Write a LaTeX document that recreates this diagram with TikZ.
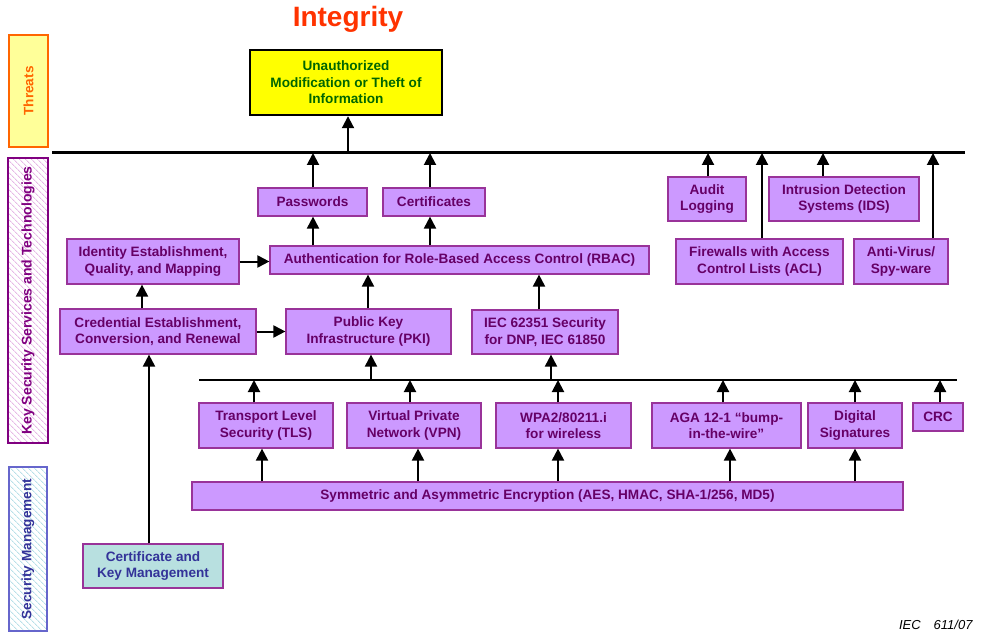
\documentclass[tikz,border=0pt]{standalone}
\usepackage{fontspec}
\setmainfont{Liberation Sans}
\usetikzlibrary{arrows.meta,patterns.meta}

\definecolor{boxfill}{HTML}{CC99FF}
\definecolor{boxedge}{HTML}{993399}
\definecolor{boxtext}{HTML}{660066}
\definecolor{threatfill}{HTML}{FFFF00}
\definecolor{threattext}{HTML}{006600}
\definecolor{titlered}{HTML}{FF3300}
\definecolor{orangeedge}{HTML}{FF6600}
\definecolor{paleyellow}{HTML}{FFFF99}
\definecolor{keyedge}{HTML}{800080}
\definecolor{keyhatch}{HTML}{E6B8E6}
\definecolor{mgmtedge}{HTML}{6666CC}
\definecolor{mgmthatch}{HTML}{B8E0E8}
\definecolor{mgmttext}{HTML}{333399}
\definecolor{tealfill}{HTML}{B8E0E0}

\tikzset{
  txt/.style={font=\fontsize{13.6}{16.5}\selectfont\bfseries, align=center, inner sep=0pt},
  box/.style={txt, draw=boxedge, line width=1.2pt, fill=boxfill, text=boxtext},
  arr/.style={line width=2pt, -{Triangle[length=12pt,width=12pt]}},
  bus/.style={line width=3pt},
  side/.style={line width=1.6pt, inner sep=0pt},
}

% place a box by its edges: left, top, right, bottom
\newcommand{\boxat}[6][box]{%
  \node[#1, minimum width={#5-#3}, minimum height={#6-#4}]
    (#2) at ({(#3+#5)/2},{(#4+#6)/2})}

\begin{document}
\begin{tikzpicture}[x=1pt,y=-1pt]
\useasboundingbox (0,0) rectangle (981,636);

% ---- side category bars ----
\node[side, draw=orangeedge, fill=paleyellow, minimum width=39, minimum height=112]
  (threatsbar) at (28.5,91) {};
\node[txt, rotate=90, text=orangeedge] at (threatsbar) {Threats};

\node[side, draw=keyedge, minimum width=40, minimum height=285,
  pattern={Lines[angle=-45,distance=4pt,line width=1pt]}, pattern color=keyhatch]
  (keybar) at (28,300.5) {};
\node[side, draw=keyedge, minimum width=40, minimum height=285] at (keybar) {};
\node[txt, font=\fontsize{14}{16}\selectfont\bfseries, rotate=90, text=keyedge] at (keybar) {Key Security Services and Technologies};

\node[side, draw=mgmtedge, minimum width=38, minimum height=164,
  pattern={Lines[angle=-45,distance=4pt,line width=1pt]}, pattern color=mgmthatch]
  (mgmtbar) at (28,549) {};
\node[side, draw=mgmtedge, minimum width=38, minimum height=164] at (mgmtbar) {};
\node[txt, rotate=90, text=mgmttext] at (mgmtbar) {Security Management};

% ---- title and threat ----
\node[font=\fontsize{28}{32}\selectfont\bfseries, text=titlered, anchor=base] (title) at (348,27) {Integrity};

\boxat[box, draw=black, line width=2.4pt, fill=threatfill, text=threattext]{threat}{250}{50}{442}{115}
  {Unauthorized\\Modification or Theft of\\Information};

% ---- upper services ----
\boxat{pw}{258}{188}{367}{216}{Passwords};
\boxat{cert}{383}{188}{485}{216}{Certificates};
\boxat{rbac}{270}{246}{649}{274}{Authentication for Role-Based Access Control (RBAC)};
\boxat{ident}{67}{239}{239}{284}{Identity Establishment,\\Quality, and Mapping};
\boxat{cred}{60}{309}{256}{354}{Credential Establishment,\\Conversion, and Renewal};
\boxat{pki}{286}{309}{451}{354}{Public Key\\Infrastructure (PKI)};
\boxat{iec}{472}{310}{618}{354}{IEC 62351 Security\\for DNP, IEC 61850};

\boxat{audit}{668}{177}{746}{221}{Audit\\Logging};
\boxat{ids}{769}{177}{919}{221}{Intrusion Detection\\Systems (IDS)};
\boxat{fw}{676}{239}{843}{284}{Firewalls with Access\\Control Lists (ACL)};
\boxat{av}{854}{239}{948}{284}{Anti-Virus/\\Spy-ware};

% ---- lower technologies ----
\boxat{tls}{199}{403}{333}{448}{Transport Level\\Security (TLS)};
\boxat{vpn}{347}{403}{481}{448}{Virtual Private\\Network (VPN)};
\boxat{wpa}{496}{403}{631}{448}{WPA2/80211.i\\for wireless};
\boxat{aga}{652}{403}{801}{448}{AGA 12-1 “bump-\\in-the-wire”};
\boxat{dsig}{808}{403}{902}{448}{Digital\\Signatures};
\boxat{crc}{913}{403}{963}{431}{CRC};
\boxat{sym}{192}{482}{903}{510}{Symmetric and Asymmetric Encryption (AES, HMAC, SHA-1/256, MD5)};

\boxat[box, fill=tealfill, text=mgmttext]{certm}{83}{544}{223}{588}{Certificate and\\Key Management};

\node[font=\fontsize{13}{15}\selectfont\itshape, anchor=base east] (fig) at (976,629) {IEC\hspace{13pt}611/07};

% ---- buses ----
\coordinate (busA-w) at (52,153);
\coordinate (busA-e) at (965,153);
\coordinate (busB-w) at (199,380);
\coordinate (busB-e) at (957,380);
\draw[bus] (busA-w) -- (busA-e);
\draw[line width=2.4pt] (busB-w) -- (busB-e);

% column helpers for off-centre connectors
\foreach \c in {142,149,254,262,313,348,368,371,410,418,430,539,551,558,708,723,730,762,823,855,933,940}
  {\coordinate (x\c) at (\c,0);}

% ---- connectors into the upper bus ----
\draw[arr] (busA-w -| x348) -- (threat.south -| x348);
\draw[arr] (pw.north -| x313) -- (busA-w -| x313);
\draw[arr] (cert.north -| x430) -- (busA-w -| x430);
\draw[arr] (audit.north -| x708) -- (busA-w -| x708);
\draw[arr] (fw.north -| x762) -- (busA-w -| x762);
\draw[arr] (ids.north -| x823) -- (busA-w -| x823);
\draw[arr] (av.north -| x933) -- (busA-w -| x933);

% ---- connectors among services ----
\draw[arr] (rbac.north -| x313) -- (pw.south -| x313);
\draw[arr] (rbac.north -| x430) -- (cert.south -| x430);
\draw[arr] (ident.east) -- (ident.east -| rbac.west);
\draw[arr] (cred.north -| x142) -- (ident.south -| x142);
\draw[arr] (cred.east) -- (cred.east -| pki.west);
\draw[arr] (pki.north -| x368) -- (rbac.south -| x368);
\draw[arr] (iec.north -| x539) -- (rbac.south -| x539);
\draw[arr] (busB-w -| x371) -- (pki.south -| x371);
\draw[arr] (busB-w -| x551) -- (iec.south -| x551);
\draw[arr] (certm.north -| x149) -- (cred.south -| x149);

% ---- technologies into the lower bus ----
\draw[arr] (tls.north -| x254) -- (busB-w -| x254);
\draw[arr] (vpn.north -| x410) -- (busB-w -| x410);
\draw[arr] (wpa.north -| x558) -- (busB-w -| x558);
\draw[arr] (aga.north -| x723) -- (busB-w -| x723);
\draw[arr] (dsig.north -| x855) -- (busB-w -| x855);
\draw[arr] (crc.north -| x940) -- (busB-w -| x940);

% ---- encryption underpins the technologies ----
\draw[arr] (sym.north -| x262) -- (tls.south -| x262);
\draw[arr] (sym.north -| x418) -- (vpn.south -| x418);
\draw[arr] (sym.north -| x558) -- (wpa.south -| x558);
\draw[arr] (sym.north -| x730) -- (aga.south -| x730);
\draw[arr] (sym.north -| x855) -- (dsig.south -| x855);
\end{tikzpicture}
\end{document}
